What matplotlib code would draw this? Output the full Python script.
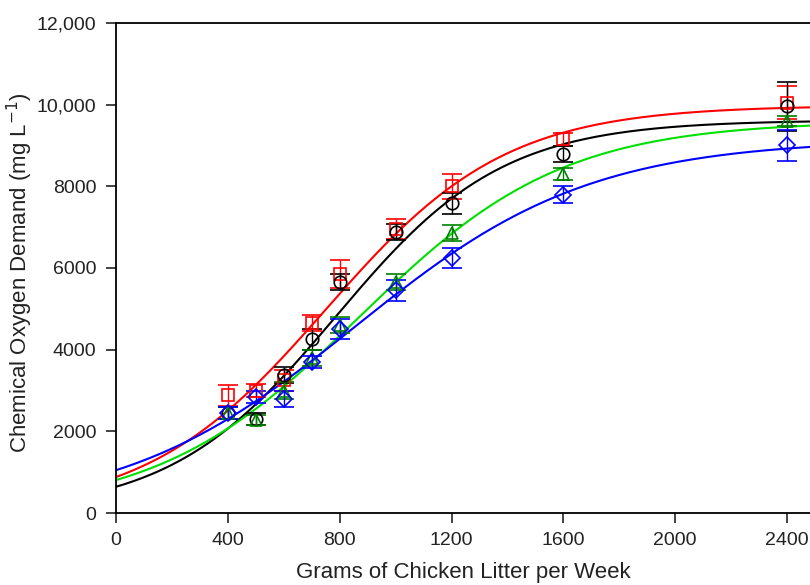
import numpy as np
import matplotlib
matplotlib.use("Agg")
import matplotlib.pyplot as plt
from matplotlib.ticker import FuncFormatter

plt.rcParams['font.family'] = ['Liberation Sans', 'DejaVu Sans']

x = [400, 500, 600, 700, 800, 1000, 1200, 1600, 2400]

red = [2880, 3000, 3250, 4650, 5850, 6950, 8000, 9150, 10050]
red_err = [250, 150, 250, 200, 350, 250, 300, 150, 400]
black = [2450, 2300, 3380, 4250, 5650, 6880, 7580, 8800, 9960]
black_err = [150, 150, 200, 250, 200, 200, 250, 200, 600]
green = [2450, 2270, 3000, 3800, 4600, 5650, 6850, 8300, 9600]
green_err = [150, 120, 200, 200, 200, 200, 200, 150, 120]
blue = [2450, 2850, 2800, 3700, 4500, 5450, 6250, 7800, 9010]
blue_err = [150, 150, 200, 150, 250, 250, 250, 200, 380]

# sigmoid fit parameters (a, x0, b) for y = a / (1 + exp(-(x - x0) / b))
fit_red = (9980, 751, 321.5)
fit_black = (9620, 786, 298)
fit_green = (9600, 870, 364)
fit_blue = (9150, 857, 419)


def sigmoid(xx, a, x0, b):
    return a / (1 + np.exp(-(xx - x0) / b))


fig = plt.figure(figsize=(8.1, 5.85), dpi=100)
ax = fig.add_axes([116 / 810, 72 / 585, 694 / 810, 490 / 585])

xs = np.linspace(0, 2500, 400)
series = [
    (red, red_err, fit_red, 's', '#ff0000', '#ff0000'),
    (black, black_err, fit_black, 'o', '#000000', '#000000'),
    (green, green_err, fit_green, '^', '#008000', '#00e000'),
    (blue, blue_err, fit_blue, 'D', '#0000ff', '#0000ff'),
]
for yv, ye, fit, mk, mc, lc in series:
    ax.plot(xs, sigmoid(xs, *fit), color=lc, lw=1.5, zorder=2)
    ax.errorbar(x, yv, yerr=ye, fmt=mk, mfc='none', mec=mc, ecolor=mc,
                ms=9 if mk != 'D' else 8, mew=1.2, capsize=7, capthick=2,
                elinewidth=1, zorder=3)

ax.set_xlim(0, 2482)
ax.set_ylim(0, 12000)
ax.set_xticks([0, 400, 800, 1200, 1600, 2000, 2400])
ax.set_yticks([0, 2000, 4000, 6000, 8000, 10000, 12000])
ax.yaxis.set_major_formatter(FuncFormatter(
    lambda v, p: f"{int(v):,}" if v >= 10000 else f"{int(v)}"))
ax.tick_params(direction='out', length=7, width=1.2, labelsize=14,
               colors='#222222', pad=7)
ax.spines['right'].set_visible(False)
for s in ['left', 'bottom', 'top']:
    ax.spines[s].set_linewidth(1.3)

ax.set_xlabel('Grams of Chicken Litter per Week', fontsize=16, color='#222222', labelpad=9)
ax.set_ylabel('Chemical Oxygen Demand (mg L$^{-1}$)', fontsize=16, color='#222222')
ax.yaxis.set_label_coords(-0.117, 0.49)

fig.savefig('out.png', dpi=100)
